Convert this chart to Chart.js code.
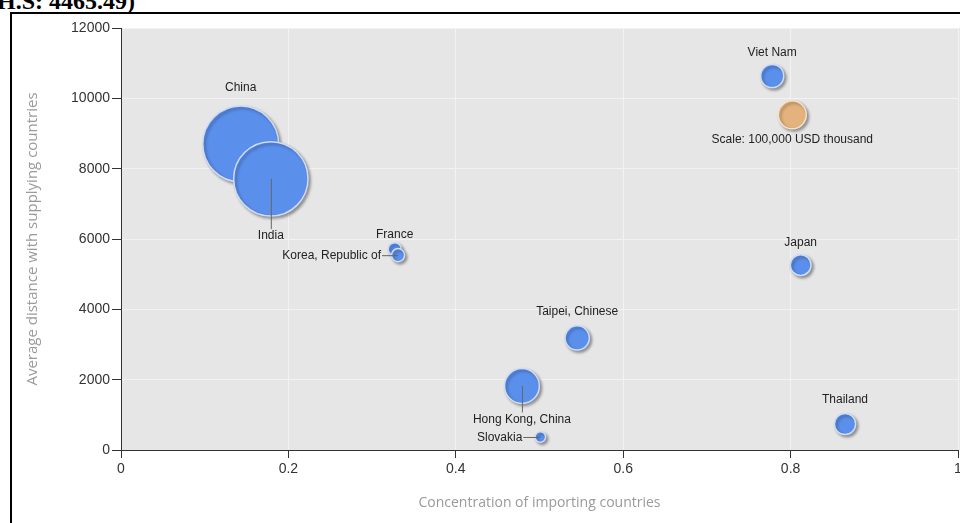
<!DOCTYPE html>
<html>
<head>
<meta charset="utf-8">
<script src="https://cdn.jsdelivr.net/npm/chart.js@4.4.1/dist/chart.umd.min.js"></script>
<style>
  html, body { margin: 0; padding: 0; background: #fff; overflow: hidden; width: 960px; height: 523px; }
  #wrap { position: absolute; left: 0; top: 0; width: 1000px; height: 523px; }
  #frame { position: absolute; left: 10px; top: 12px; width: 1200px; height: 1200px; border: 2px solid #000; pointer-events: none; }
  #head { position: absolute; left: -3px; top: -12px; font: bold 24px 'Liberation Serif', serif; white-space: nowrap; color: #000; }
</style>
</head>
<body>
<div id="head">H.S: 4465.49)</div>
<div id="wrap"><canvas id="myChart"></canvas></div>
<div id="frame"></div>
<script>
// data
const countries = ["China", "India", "France", "Korea, Republic of", "Taipei, Chinese",
    "Hong Kong, China", "Slovakia", "Viet Nam", "Japan", "Thailand"];
const concentration = [0.143, 0.179, 0.327, 0.331, 0.545, 0.479, 0.501, 0.778, 0.812, 0.865];
const avgDistance = [8700, 7710, 5710, 5540, 3185, 1820, 370, 10635, 5260, 740];
const importValue = [735000, 705000, 22000, 22000, 75000, 155000, 14000, 68000, 55000, 57000]; // USD thousand

const scaleName = ["Scale: 100,000 USD thousand"];
const scaleX = [0.802];
const scaleY = [9530];
const scaleValue = [100000];

const xTicks = ["0", "0.2", "0.4", "0.6", "0.8", "1"];
const yTicks = ["0", "2000", "4000", "6000", "8000", "10000", "12000"];

// where each name goes around its bubble
const labelPlace = {
    "China": { side: "top", gap: 18 },
    "India": { side: "bottom", gap: 20, leader: true },
    "France": { side: "top", gap: 8 },
    "Korea, Republic of": { side: "left", gap: 17, leader: true },
    "Taipei, Chinese": { side: "top", gap: 14 },
    "Hong Kong, China": { side: "bottom", gap: 16, leader: true },
    "Slovakia": { side: "left", gap: 18, leader: true },
    "Viet Nam": { side: "top", gap: 12 },
    "Japan": { side: "top", gap: 12 },
    "Thailand": { side: "top", gap: 14 },
    "Scale: 100,000 USD thousand": { side: "bottom", gap: 11 }
};

function radius(v) {
    return 14 * Math.sqrt(v / 100000);
}

const points = countries.map((c, i) => ({ x: concentration[i], y: avgDistance[i], r: radius(importValue[i]) }));
const scalePoints = scaleName.map((c, i) => ({ x: scaleX[i], y: scaleY[i], r: radius(scaleValue[i]) }));

const plotBg = {
    id: "plotBg",
    beforeDraw(chart) {
        const { ctx, chartArea } = chart;
        ctx.save();
        ctx.fillStyle = "#e6e6e6";
        ctx.fillRect(chartArea.left, chartArea.top, chart.width - chartArea.left, chartArea.bottom - chartArea.top);
        ctx.restore();
    }
};

const bubbleShadow = {
    id: "bubbleShadow",
    beforeDatasetsDraw(chart) {
        const ctx = chart.ctx;
        ctx.save();
        ctx.shadowColor = "rgba(0,0,0,0.35)";
        ctx.shadowOffsetX = 2;
        ctx.shadowOffsetY = 2;
        ctx.shadowBlur = 3;
    },
    afterDatasetsDraw(chart) {
        chart.ctx.restore();
    }
};

const bubbleLabels = {
    id: "bubbleLabels",
    afterDatasetsDraw(chart) {
        const ctx = chart.ctx;
        ctx.save();
        ctx.font = "12px 'Liberation Sans', Arial, sans-serif";
        ctx.fillStyle = "#222";
        ctx.strokeStyle = "#666";
        ctx.lineWidth = 1;
        const names = [countries, scaleName];
        chart.data.datasets.forEach((ds, d) => {
            chart.getDatasetMeta(d).data.forEach((el, i) => {
                const name = names[d][i];
                const p = labelPlace[name];
                const r = ds.data[i].r;
                ctx.textBaseline = "middle";
                if (p.side === "top") {
                    ctx.textAlign = "center";
                    ctx.fillText(name, el.x, el.y - r - p.gap);
                } else if (p.side === "bottom") {
                    ctx.textAlign = "center";
                    const ty = el.y + r + p.gap;
                    if (p.leader) {
                        ctx.beginPath();
                        ctx.moveTo(el.x + 0.5, el.y);
                        ctx.lineTo(el.x + 0.5, ty - 7);
                        ctx.stroke();
                    }
                    ctx.fillText(name, el.x, ty);
                } else {
                    ctx.textAlign = "right";
                    const tx = el.x - p.gap;
                    if (p.leader) {
                        ctx.beginPath();
                        ctx.moveTo(tx + 1, el.y + 0.5);
                        ctx.lineTo(el.x, el.y + 0.5);
                        ctx.stroke();
                    }
                    ctx.fillText(name, tx, el.y + 1);
                }
            });
        });
        ctx.restore();
    }
};

const axisTitles = {
    id: "axisTitles",
    afterDraw(chart) {
        const { ctx, chartArea } = chart;
        ctx.save();
        ctx.fillStyle = "#9a9a9a";
        ctx.textAlign = "center";
        ctx.textBaseline = "middle";
        ctx.font = "14px 'Open Sans', sans-serif";
        ctx.fillText("Concentration of importing countries", (chartArea.left + chartArea.right) / 2, 503);
        ctx.font = "15px 'Open Sans', sans-serif";
        ctx.translate(33, (chartArea.top + chartArea.bottom) / 2);
        ctx.rotate(-Math.PI / 2);
        ctx.fillText("Average distance with supplying countries", 0, 0);
        ctx.restore();
    }
};

const tickFont = { family: "'Liberation Sans', Arial, sans-serif", size: 14 };

const config = {
    type: "bubble",
    data: {
        datasets: [
            {
                data: points,
                backgroundColor: "#5a8fec",
                borderColor: "#cfdcf3",
                borderWidth: 1.5
            },
            {
                data: scalePoints,
                backgroundColor: "#e4b27c",
                borderColor: "#f3e2cc",
                borderWidth: 1.5
            }
        ]
    },
    options: {
        responsive: true,
        maintainAspectRatio: false,
        animation: false,
        events: [],
        layout: { autoPadding: false, padding: { left: 0, top: 28, right: 42, bottom: 0 } },
        plugins: { legend: { display: false }, tooltip: { enabled: false } },
        scales: {
            x: {
                type: "linear",
                min: 0,
                max: 1,
                afterFit: (s) => { s.height = 73; },
                ticks: {
                    stepSize: 0.2,
                    color: "#333",
                    font: tickFont,
                    padding: 3,
                    callback: (v, i) => xTicks[i]
                },
                grid: { color: "#f2f2f2", tickColor: "#333", tickLength: 8 },
                border: { color: "#333", width: 1 }
            },
            y: {
                min: 0,
                max: 12000,
                afterFit: (s) => { s.width = 121; },
                ticks: {
                    stepSize: 2000,
                    color: "#333",
                    font: tickFont,
                    padding: 2,
                    callback: (v, i) => yTicks[i]
                },
                grid: { color: "#f2f2f2", tickColor: "#333", tickLength: 9 },
                border: { color: "#333", width: 1 }
            }
        }
    },
    plugins: [plotBg, bubbleShadow, bubbleLabels, axisTitles]
};

const myChart = document.querySelector("#myChart");
const chart = new Chart(myChart, config);
</script>
</body>
</html>
